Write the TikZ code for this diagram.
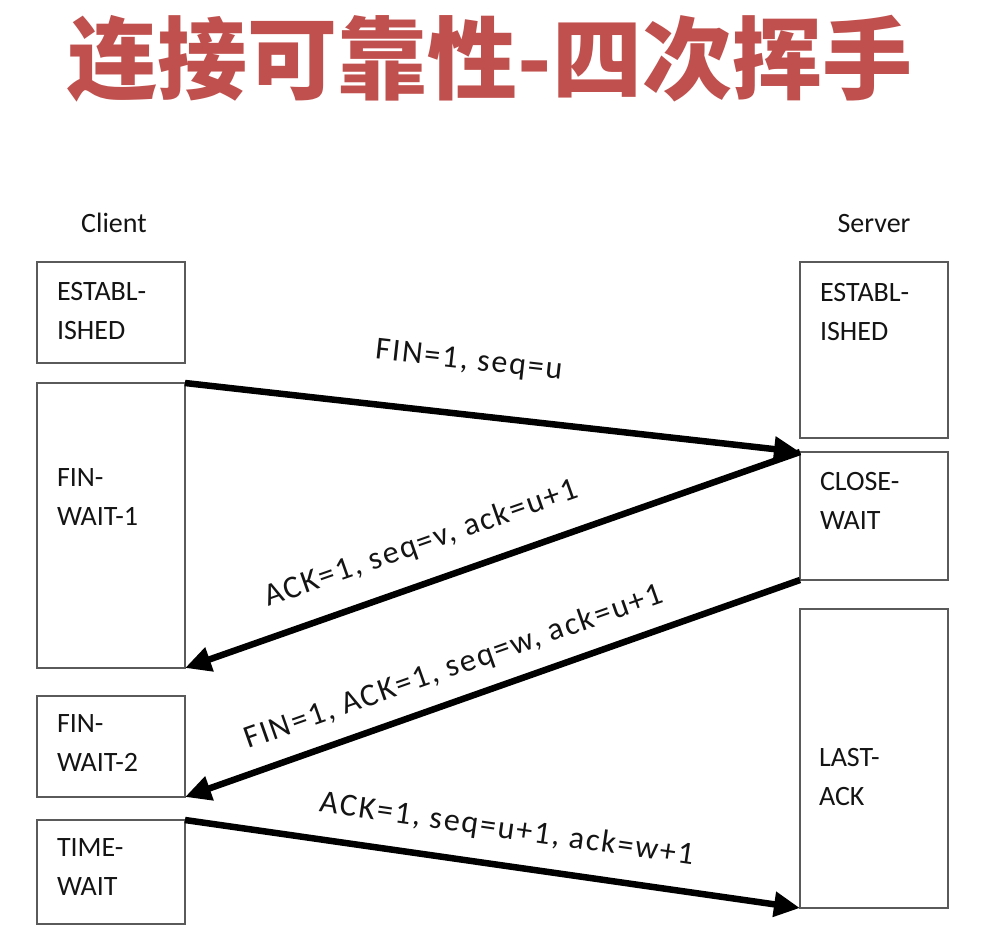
\documentclass[tikz,border=0pt]{standalone}
\usepackage{fontspec}
\setmainfont{Carlito}
\newfontfamily\cjk{Noto Sans CJK SC}
\newfontfamily\msgfont[LetterSpace=6]{Carlito}
\usetikzlibrary{positioning, arrows.meta}
\definecolor{titlered}{HTML}{C0504D}
\definecolor{boxgray}{HTML}{5A5A5A}

\begin{document}
\begin{tikzpicture}[
    x=1pt, y=-1pt,
    every node/.style={inner sep=0pt, outer sep=0pt, text=black!92},
    heading/.style={font=\cjk\bfseries\fontsize{90}{90}\selectfont, text=titlered},
    side/.style={font=\fontsize{28}{34}\selectfont},
    statebox/.style={draw=boxgray, line width=1.8pt, rectangle, minimum width=148pt},
    statetext/.style={font=\fontsize{28}{39}\selectfont, align=left},
    msg/.style={font=\msgfont\fontsize{32}{32}\selectfont, sloped},
    arrow/.style={-{Triangle[length=26pt, width=24pt]}, line width=6.5pt, draw=black}
]
\useasboundingbox (0,0) rectangle (988,944);
\node[heading] (title) at (490,59) {连接可靠性-四次挥手};

% client side
\node[statebox, minimum height=101pt, anchor=north west] (cest) at (37,262) {};
\node[statebox, minimum height=285pt, below=20pt of cest] (cfw1) {};
\node[statebox, minimum height=101pt, below=28pt of cfw1] (cfw2) {};
\node[statebox, minimum height=104pt, below=23pt of cfw2] (ctw) {};
\node[side, above=29pt of cest, xshift=3pt] (client) {Client};

\node[statetext, below right=20pt and 20pt of cest.north west] (cestt) {ESTABL-\\ISHED};
\node[statetext, below right=86pt and 20pt of cfw1.north west] (cfw1t) {FIN-\\WAIT-1};
\node[statetext, below right=19pt and 20pt of cfw2.north west] (cfw2t) {FIN-\\WAIT-2};
\node[statetext, below right=19pt and 20pt of ctw.north west] (ctwt) {TIME-\\WAIT};

% server side
\node[statebox, minimum height=176pt, anchor=north west] (sest) at (800,262) {};
\node[statebox, minimum height=128pt, below=14pt of sest] (scw) {};
\node[statebox, minimum height=299pt, below=29pt of scw] (sla) {};
\node[side, above=29pt of sest] (server) {Server};

\node[statetext, below right=21pt and 20pt of sest.north west] (sestt) {ESTABL-\\ISHED};
\node[statetext, below right=20pt and 20pt of scw.north west] (scwt) {CLOSE-\\WAIT};
\node[statetext, below right=139pt and 19pt of sla.north west] (slat) {LAST-\\ACK};

% messages
\draw[arrow] (cfw1.north east) -- node[msg, above=40pt, pos=0.452] (m1) {FIN=1, seq=u} (scw.north west);
\draw[arrow] (scw.north west) -- node[msg, above=25pt, pos=0.595] (m2) {ACK=1, seq=v, ack=u+1} (cfw1.south east);
\draw[arrow] (scw.south west) -- node[msg, above=19pt, pos=0.545] (m3) {FIN=1, ACK=1, seq=w, ack=u+1} (cfw2.south east);
\draw[arrow] (ctw.north east) -- node[msg, above=22pt, pos=0.515] (m4) {ACK=1, seq=u+1, ack=w+1} (sla.south west);
\end{tikzpicture}
\end{document}
